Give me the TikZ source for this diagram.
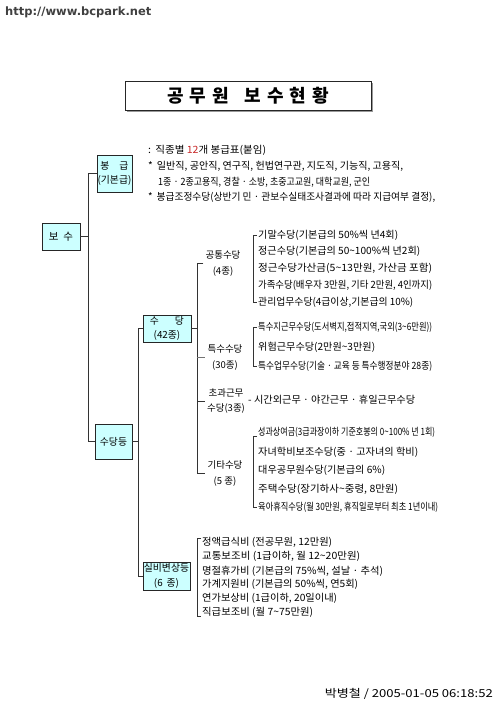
\documentclass[tikz,border=0pt]{standalone}
\usepackage{fontspec}
\setmainfont{Noto Sans CJK KR}
\newfontfamily\wmfont{DejaVu Sans}
\usepackage{graphicx}
\usetikzlibrary{shadows,calc}
\definecolor{boxcyan}{RGB}{204,255,255}
\definecolor{numred}{RGB}{200,40,40}
\newcommand\tl{\textasciitilde{}}
\tikzset{
  box/.style={draw=black!85, fill=boxcyan, line width=0.6pt, inner sep=0pt, align=center,
    font=\fontsize{9.8}{14.5}\selectfont,
    drop shadow={shadow xshift=1.4pt, shadow yshift=-1.4pt, fill=black!40, opacity=1}},
  titlebox/.style={draw=black!85, fill=white, line width=0.6pt, inner sep=0pt,
    font=\fontsize{18}{20}\bfseries\selectfont,
    drop shadow={shadow xshift=1.6pt, shadow yshift=-1.6pt, fill=black!40, opacity=1}},
  item/.style={anchor=west, inner sep=0pt, font=\fontsize{10}{11}\selectfont},
  info/.style={anchor=west, inner sep=0pt, font=\fontsize{10}{11}\selectfont},
  lbl/.style={inner sep=0pt, align=center, font=\fontsize{9.5}{15.5}\selectfont},
  tree/.style={draw=black!80, line width=0.6pt},
}
\newcommand\fitto[2]{\resizebox{#1}{\height}{#2}}
\begin{document}
\begin{tikzpicture}[x=1pt,y=-1pt]
\path[use as bounding box, fill=white] (0,0) rectangle (500,707);

% watermark and stamp
\node[anchor=west, inner sep=0pt, font=\wmfont\bfseries\fontsize{11.5}{12}\selectfont, text=black!75] (wm) at (5,12) {http://www.bcpark.net};
\node[anchor=east, inner sep=0pt, font=\fontsize{11}{12}\selectfont] (stamp) at (493,694) {\fitto{168pt}{박병철 / 2005-01-05 06:18:52}};

% title
\node[titlebox, minimum width=246pt, minimum height=29pt] (title) at (248,95.5)
  {공\hspace{6pt}무\hspace{6pt}원\hspace{16pt}보\hspace{6pt}수\hspace{6pt}현\hspace{6pt}황};

% boxes
\node[box, minimum width=38pt, minimum height=27pt, font=\fontsize{10.5}{12}\selectfont] (bosu) at (61,236.5) {보\hspace{5pt}수};
\node[box, minimum width=35pt, minimum height=37pt] (bong) at (114.5,173.5) {봉\hspace{10pt}급\\(기본급)};
\node[box, minimum width=37pt, minimum height=35pt] (sdd) at (113.5,441.5) {수당등};
\node[box, minimum width=48pt, minimum height=27pt] (sudang) at (167,328.5) {수\hspace{16pt}당\\(42종)};
\node[box, minimum width=47pt, minimum height=28pt] (silbi) at (166.5,576) {실비변상등\\(6\hspace{4pt}종)};

% trunk coordinates
\coordinate (t1) at (88,0);
\coordinate (t2) at (138,0);
\coordinate (t3) at (197,0);

\draw[tree] (bong.west) -- (bong.west -| t1) -- (sdd.west -| t1) -- (sdd.west);
\draw[tree] (bosu.east) -- (bosu.east -| t1);
\draw[tree] (sudang.west) -- (sudang.west -| t2) -- (silbi.west -| t2) -- (silbi.west);
\draw[tree] (sdd.east) -- (sdd.east -| t2);

% bong info
\node[info] (i1) at (148,150) {\fitto{118pt}{:\hspace{4pt}직종별 \textcolor{numred}{12}개 봉급표(붙임)}};
\node[info] (i2) at (148,166) {\fitto{255pt}{*\hspace{4pt}일반직, 공안직, 연구직, 헌법연구관, 지도직, 기능직, 고용직,}};
\node[info] (i3) at (158,182) {\fitto{212pt}{1종 · 2종고용직, 경찰 · 소방, 초중고교원, 대학교원, 군인}};
\node[info] (i4) at (148,197) {\fitto{287pt}{*\hspace{4pt}봉급조정수당(상반기 민 · 관보수실태조사결과에 따라 지급여부 결정),}};

% level 3 labels
\node[lbl] (gt) at (223,263.5) {공통수당\\(4종)};
\node[lbl] (ts) at (225,357.5) {특수수당\\(30종)};
\node[lbl] (cg) at (226,401) {초과근무\\수당(3종)};
\node[lbl] (gita) at (225,473.5) {기타수당\\(5 종)};

\draw[tree] (sudang.east) -- (sudang.east -| t3);
\draw[tree] ($(gt.west)+(-2,0)$) -- (gt.west -| t3) -- (gita.west -| t3) -- ($(gita.west)+(-2,0)$);
\draw[tree, draw=black!55] (ts.west -| t3) -- ($(ts.west)+(-2,0)$);
\draw[tree] (cg.west -| t3) -- ($(cg.west)+(-2,0)$);

% common allowances
\node[item] (g1) at (258,235) {\fitto{140pt}{기말수당(기본급의 50\%씩 년4회)}};
\node[item] (g2) at (258,251) {\fitto{162pt}{정근수당(기본급의 50\tl{}100\%씩 년2회)}};
\node[item] (g3) at (258,268) {\fitto{174pt}{정근수당가산금(5\tl{}13만원, 가산금 포함)}};
\node[item] (g4) at (258,285) {\fitto{174pt}{가족수당(배우자 3만원, 기타 2만원, 4인까지)}};
\node[item] (g5) at (258,302) {\fitto{155pt}{관리업무수당(4급이상,기본급의 10\%)}};
\draw[tree] ($(g1.west)+(-1,0)$) -- ++(-4,0) |- ($(g5.west)+(-1,0)$);

% special allowances
\node[item] (p1) at (258,327) {\fitto{174pt}{특수지근무수당(도서벽지,접적지역,국외(3\tl{}6만원))}};
\node[item] (p2) at (258,347) {\fitto{117pt}{위험근무수당(2만원\tl{}3만원)}};
\node[item] (p3) at (258,366) {\fitto{174pt}{특수업무수당(기술 · 교육 등 특수행정분야 28종)}};
\draw[tree] ($(p1.west)+(-1,0)$) -- ++(-4,0) |- ($(p3.west)+(-1,0)$);

% overtime
\node[item] (c1) at (248,400) {\fitto{167pt}{- 시간외근무 · 야간근무 · 휴일근무수당}};

% other allowances
\node[item] (k1) at (258,432) {\fitto{177pt}{성과상여금(3급과장이하 기준호봉의 0\tl{}100\% 년 1회)}};
\node[item] (k2) at (258,452) {\fitto{160pt}{자녀학비보조수당(중 · 고자녀의 학비)}};
\node[item] (k3) at (258,470) {\fitto{127pt}{대우공무원수당(기본급의 6\%)}};
\node[item] (k4) at (258,489) {\fitto{140pt}{주택수당(장기하사\tl{}중령, 8만원)}};
\node[item] (k5) at (258,507) {\fitto{180pt}{육아휴직수당(월 30만원, 휴직일로부터 최초 1년이내)}};
\draw[tree] ($(k1.west)+(-1,4)$) -- ++(-4,0) |- ($(k5.west)+(-1,0)$);

% expense reimbursements
\node[item] (s1) at (202,542) {\fitto{130pt}{정액급식비 (전공무원, 12만원)}};
\node[item] (s2) at (202,556) {\fitto{158pt}{교통보조비 (1급이하, 월 12\tl{}20만원)}};
\node[item] (s3) at (202,571) {\fitto{181pt}{명절휴가비 (기본급의 75\%씩, 설날 · 추석)}};
\node[item] (s4) at (202,584) {\fitto{156pt}{가계지원비 (기본급의 50\%씩, 연5회)}};
\node[item] (s5) at (202,598) {\fitto{135pt}{연가보상비 (1급이하, 20일이내)}};
\node[item] (s6) at (202,612) {\fitto{111pt}{직급보조비 (월 7\tl{}75만원)}};
\draw[tree] ($(s1.west)+(-1,-4)$) -- ++(-4,0) |- ($(s6.west)+(-1,4)$);
\end{tikzpicture}
\end{document}
